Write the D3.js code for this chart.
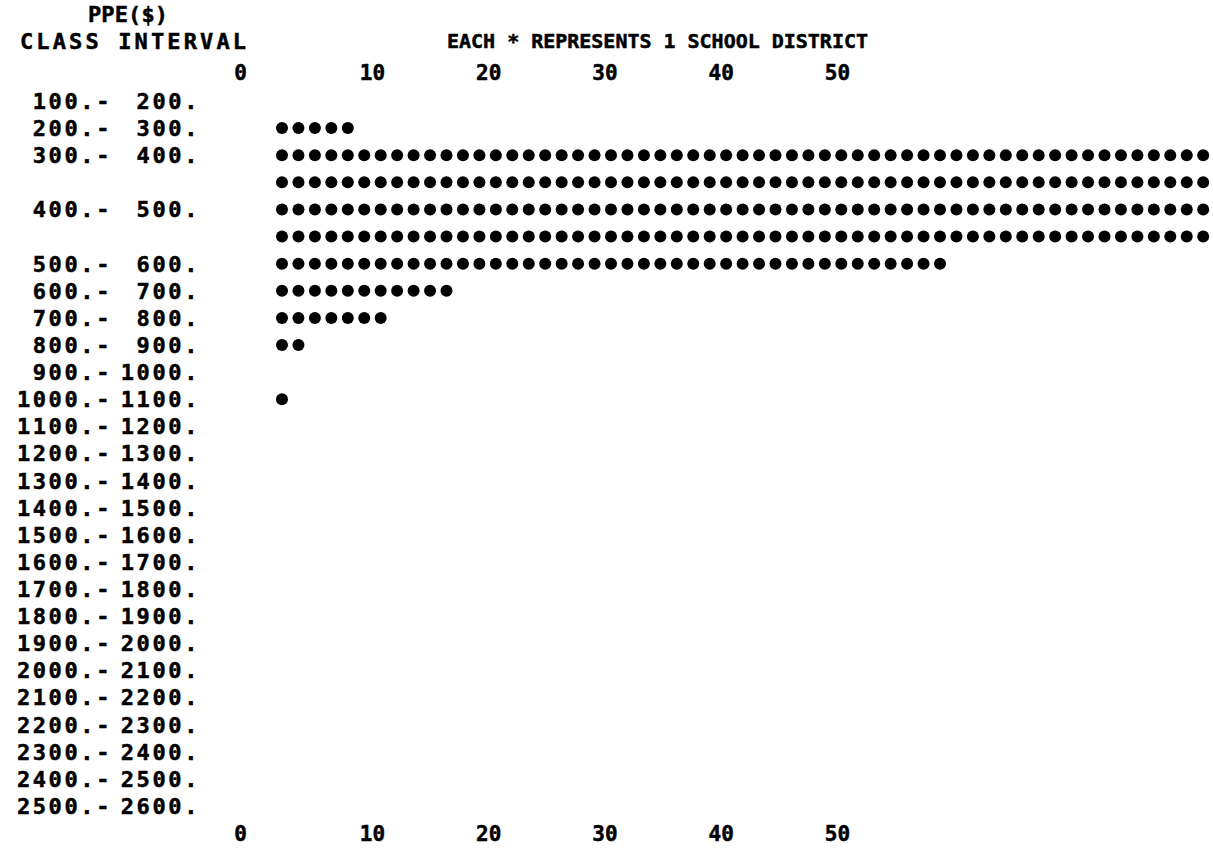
<!DOCTYPE html>
<html><head><meta charset="utf-8">
<script src="https://cdn.jsdelivr.net/npm/d3@7"></script>
<style>
html,body{margin:0;padding:0;background:#fff;}
svg text{font-family:"DejaVu Sans Mono",monospace;font-weight:bold;fill:#000;stroke:#000;stroke-width:0.5px;}
</style></head><body><svg id="c" width="1213" height="848"></svg>
<script>
// ---- data ----
const intervalLow  = ["100.-","200.-","300.-","400.-","500.-","600.-","700.-","800.-","900.-","1000.-","1100.-","1200.-","1300.-","1400.-","1500.-","1600.-","1700.-","1800.-","1900.-","2000.-","2100.-","2200.-","2300.-","2400.-","2500.-"];
const intervalHigh = ["200.","300.","400.","500.","600.","700.","800.","900.","1000.","1100.","1200.","1300.","1400.","1500.","1600.","1700.","1800.","1900.","2000.","2100.","2200.","2300.","2400.","2500.","2600."];
const districtCounts = [0,5,120,120,41,11,7,2,0,1,0,0,0,0,0,0,0,0,0,0,0,0,0,0,0];
const axisTicks = [0,10,20,30,40,50];
const starsPerLine = 60;
const headerVar = "PPE($)";
const headerClass = "CLASS INTERVAL";
const legendText = "EACH * REPRESENTS 1 SCHOOL DISTRICT";

// ---- build printed lines ----
const lines = [];
districtCounts.forEach((c, i) => {
  const n = Math.max(1, Math.ceil(c / starsPerLine));
  for (let j = 0; j < n; j++) {
    const k = Math.max(0, Math.min(starsPerLine, c - j * starsPerLine));
    lines.push({ interval: i, first: j === 0, stars: d3.range(1, k + 1) });
  }
});

const svg = d3.select("#c");

const y = d3.scaleLinear().domain([0, lines.length - 1]).range([101, 806]);
const xStar = d3.scaleLinear().domain([1, 41]).range([282, 940]);
const xAxis = d3.scaleLinear().domain([0, 10, 50]).range([240, 372, 837]);

const fs = 21;

// headers
svg.append("text").attr("x", 88).attr("y", 14).attr("dy", "0.36em")
  .attr("font-size", 22).attr("textLength", 80).attr("lengthAdjust", "spacing").text(headerVar);
svg.append("text").attr("x", 20).attr("y", 41).attr("dy", "0.36em")
  .attr("font-size", 22).attr("textLength", 226).attr("lengthAdjust", "spacing").text(headerClass);
svg.append("text").attr("x", 447).attr("y", 41).attr("dy", "0.36em")
  .attr("font-size", 20).attr("textLength", 421).attr("lengthAdjust", "spacing").text(legendText);

// axes
function styleAxis(g) {
  g.select(".domain").remove();
  g.selectAll(".tick line").remove();
  g.selectAll(".tick text").attr("font-size", fs).attr("font-family", null).attr("fill", "#000").attr("dy", "0.36em");
}
svg.append("g").attr("transform", "translate(0,72)")
  .call(d3.axisBottom(xAxis).tickValues(axisTicks).tickSize(0).tickPadding(0).tickFormat(d3.format("d")))
  .call(styleAxis);
svg.append("g").attr("transform", "translate(0,833)")
  .call(d3.axisBottom(xAxis).tickValues(axisTicks).tickSize(0).tickPadding(0).tickFormat(d3.format("d")))
  .call(styleAxis);

// row labels
const rows = svg.append("g").selectAll("g").data(lines).join("g")
  .attr("transform", (d, i) => `translate(0,${y(i)})`);
rows.filter(d => d.first).append("text")
  .attr("x", 112).attr("dy", "0.36em").attr("text-anchor", "end").attr("font-size", 22)
  .attr("letter-spacing", 2.6)
  .text(d => intervalLow[d.interval]);
rows.filter(d => d.first).append("text")
  .attr("x", 200).attr("dy", "0.36em").attr("text-anchor", "end").attr("font-size", 22)
  .attr("letter-spacing", 2.6)
  .text(d => intervalHigh[d.interval]);

// stars
rows.selectAll("circle").data(d => d.stars).join("circle")
  .attr("cx", k => xStar(k)).attr("cy", 0).attr("r", 6).attr("fill", "#000");
</script></body></html>
